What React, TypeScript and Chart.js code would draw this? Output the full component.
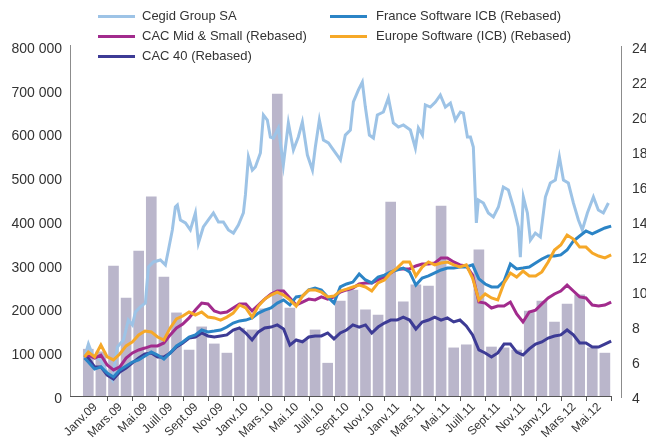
import React, { useEffect, useRef } from 'react';
import { Chart, registerables } from 'chart.js';

Chart.register(...registerables);

const FONT = '"Liberation Sans", Arial, Helvetica, sans-serif';

// x tick labels (every second month, Jan 2009 .. May 2012)
const xLabels = [
  'Janv.09', 'Mars.09', 'Mai.09', 'Juill.09', 'Sept.09', 'Nov.09',
  'Janv.10', 'Mars.10', 'Mai.10', 'Juill.10', 'Sept.10', 'Nov.10',
  'Janv.11', 'Mars.11', 'Mai.11', 'Juill.11', 'Sept.11', 'Nov.11',
  'Janv.12', 'Mars.12', 'Mai.12',
];

// monthly traded volume (left axis), Jan 2009 .. Jun 2012
const volume = [
  107000, 101000, 297000, 224000, 331000, 455000, 272000, 190000, 105000, 158000,
  119000, 98000, 155000, 151000, 199000, 690000, 201000, 128000, 151000, 75000,
  217000, 242000, 197000, 185000, 443000, 215000, 254000, 251000, 434000, 110000,
  117000, 334000, 112000, 110000, 105000, 194000, 217000, 169000, 210000, 231000,
  110000, 98000,
];

// time (months since 1 Jan 2009) for the index series
const idxT = [
  0.2, 0.5, 1, 1.5, 2, 2.5, 3, 3.5, 4, 4.5, 5, 5.5, 6, 6.5, 7, 7.5, 8, 8.5, 9, 9.5,
  10, 10.5, 11, 11.5, 12, 12.5, 13, 13.5, 14, 14.5, 15, 15.5, 16, 16.5, 17, 17.5, 18, 18.5, 19, 19.5,
  20, 20.5, 21, 21.5, 22, 22.5, 23, 23.5, 24, 24.5, 25, 25.5, 26, 26.5, 27, 27.5, 28, 28.5, 29, 29.5,
  30, 30.5, 31, 31.5, 32, 32.5, 33, 33.5, 34, 34.5, 35, 35.5, 36, 36.5, 37, 37.5, 38, 38.5, 39, 39.5,
  40, 40.5, 41, 41.5, 42,
];

const europeSoftware = [
  6.23, 6.51, 6.23, 6.91, 6.23, 6.06, 6.4, 6.86, 7.09, 7.49,
  7.71, 7.66, 7.37, 7.2, 7.89, 8.4, 8.57, 8.8, 8.63, 8.8,
  8.51, 8.46, 8.34, 8.51, 8.74, 9.2, 9.03, 8.51, 9.14, 9.54,
  9.77, 9.94, 9.77, 9.49, 9.14, 9.71, 10.06, 10.06, 9.94, 9.66,
  9.71, 10.0, 10.11, 10.23, 10.34, 10.23, 10.0, 10.46, 10.63, 11.03,
  11.31, 11.66, 11.66, 10.86, 11.37, 11.66, 11.49, 11.6, 11.66, 11.49,
  11.37, 11.49, 10.74, 9.49, 9.83, 9.6, 9.49, 10.46, 11.03, 10.8,
  11.14, 10.86, 10.86, 11.09, 11.66, 12.34, 12.63, 13.2, 12.97, 12.51,
  12.51, 12.17, 12.0, 11.89, 12.06,
];

const cacMidSmall = [
  6.23, 6.34, 6.17, 6.34, 5.77, 5.49, 5.66, 6.17, 6.46, 6.63,
  6.74, 6.86, 6.86, 7.03, 7.49, 7.89, 8.11, 8.46, 8.91, 9.31,
  9.26, 8.86, 8.74, 8.8, 9.03, 9.26, 9.26, 8.86, 9.2, 9.54,
  9.83, 10.0, 10.0, 9.6, 9.2, 9.37, 9.54, 9.49, 9.66, 9.54,
  9.66, 9.94, 10.06, 10.17, 10.4, 10.46, 10.46, 10.63, 10.8, 11.03,
  11.26, 11.26, 11.26, 11.43, 11.54, 11.54, 11.6, 11.89, 11.89, 11.66,
  11.49, 11.43, 10.91, 9.37, 9.31, 9.03, 9.14, 9.14, 9.37, 8.69,
  8.23, 8.8, 8.91, 9.26, 9.6, 9.83, 10.0, 10.34, 10.0, 9.66,
  9.6, 9.2, 9.14, 9.2, 9.37,
];

const franceSoftware = [
  6.17, 5.94, 5.54, 5.66, 5.31, 5.09, 5.49, 5.71, 5.94, 6.06,
  6.29, 6.51, 6.34, 6.11, 6.46, 6.86, 7.09, 7.37, 7.49, 7.77,
  7.66, 7.71, 7.77, 7.94, 8.17, 8.29, 8.34, 8.46, 8.74, 8.91,
  9.03, 9.31, 9.49, 9.2, 9.66, 9.71, 10.06, 10.17, 10.06, 9.66,
  9.31, 10.23, 10.4, 10.51, 10.97, 10.63, 10.46, 10.8, 10.91, 11.09,
  11.2, 11.31, 11.09, 10.34, 10.74, 10.86, 11.03, 11.2, 11.31, 11.31,
  11.37, 11.37, 11.49, 10.69, 10.4, 10.23, 10.23, 10.57, 11.54, 11.26,
  11.31, 11.37, 11.6, 11.83, 12.0, 12.0, 12.06, 12.34, 12.86, 13.14,
  13.43, 13.26, 13.43, 13.6, 13.71,
];

const cac40 = [
  6.34, 6.17, 5.66, 5.66, 5.2, 4.97, 5.37, 5.6, 5.89, 6.17,
  6.4, 6.46, 6.23, 6.23, 6.46, 6.8, 7.03, 7.31, 7.37, 7.6,
  7.43, 7.37, 7.43, 7.49, 7.77, 7.89, 7.6, 7.2, 7.66, 7.89,
  7.94, 8.06, 7.83, 6.91, 7.2, 7.09, 7.37, 7.43, 7.43, 7.6,
  7.26, 7.6, 7.77, 8.06, 7.94, 8.06, 7.6, 7.94, 8.17, 8.34,
  8.34, 8.51, 8.34, 7.83, 8.23, 8.34, 8.51, 8.34, 8.46, 8.23,
  8.34, 8.0, 7.49, 6.63, 6.46, 6.23, 6.46, 6.97, 6.97, 6.51,
  6.34, 6.69, 6.97, 7.09, 7.31, 7.43, 7.49, 7.77, 7.49, 7.03,
  7.03, 6.8, 6.8, 6.97, 7.14,
];

// Cegid share price (right axis)
const cegidT = [
  0.19, 0.51, 0.9, 1.46, 2.02, 2.41, 2.81, 3.29, 3.68, 4.0,
  4.24, 4.63, 5.03, 5.27, 5.67, 6.22, 6.62, 6.86, 7.17, 7.41,
  7.57, 7.81, 8.21, 8.6, 9.0, 9.24, 9.63, 10.03, 10.43, 10.83,
  11.22, 11.62, 12.02, 12.41, 12.81, 12.97, 13.21, 13.52, 13.76, 14.16,
  14.4, 14.71, 14.95, 15.19, 15.59, 15.98, 16.38, 16.78, 17.17, 17.49,
  17.89, 18.29, 18.52, 18.84, 19.16, 19.56, 19.95, 20.35, 20.51, 20.9,
  21.3, 21.54, 21.94, 22.25, 22.49, 22.81, 23.13, 23.44, 23.92, 24.32,
  24.71, 25.11, 25.51, 26.06, 26.46, 26.7, 27.02, 27.25, 27.65, 28.05,
  28.44, 28.84, 29.24, 29.63, 30.03, 30.27, 30.59, 30.83, 31.06, 31.3,
  31.46, 31.86, 32.25, 32.65, 33.05, 33.44, 33.84, 34.24, 34.63, 34.79,
  35.03, 35.35, 35.59, 35.98, 36.38, 36.78, 37.17, 37.57, 37.89, 38.21,
  38.6, 39.0, 39.4, 39.71, 40.11, 40.59, 40.98, 41.38, 41.78,
];
const cegidV = [
  6.17, 6.97, 6.23, 6.06, 5.31, 4.91, 6.8, 7.2, 8.34, 8.06,
  8.8, 9.09, 9.31, 11.37, 11.66, 11.77, 11.49, 12.34, 13.49, 14.8,
  14.91, 14.06, 13.89, 13.49, 14.46, 12.74, 13.66, 14.06, 14.46, 13.94,
  13.94, 13.49, 13.31, 13.77, 14.46, 15.49, 17.66, 16.91, 17.09, 17.89,
  20.06, 19.77, 18.8, 18.74, 19.31, 17.2, 19.6, 18.06, 18.8, 19.66,
  17.77, 16.91, 18.23, 19.77, 18.63, 18.46, 18.06, 17.66, 17.49, 18.91,
  19.2, 20.8, 21.49, 21.94, 20.51, 18.91, 18.74, 20.06, 20.23, 21.03,
  19.6, 19.37, 19.49, 19.2, 18.17, 19.31, 18.91, 20.63, 20.51, 20.8,
  21.2, 20.51, 20.74, 19.77, 20.23, 20.17, 18.8, 18.8, 18.23, 13.89,
  15.2, 15.03, 14.46, 14.23, 14.8, 15.94, 15.77, 14.8, 13.66, 11.94,
  15.37, 14.46, 12.91, 13.31, 13.09, 15.37, 16.17, 16.34, 17.66, 16.34,
  16.17, 15.03, 14.06, 13.49, 14.46, 15.37, 14.63, 14.46, 15.03,
];

const C_CEGID = '#9dc3e6';
const C_FRANCE = '#2b84c6';
const C_MID = '#a22b8d';
const C_EUROPE = '#f6a828';
const C_CAC40 = '#3d3b95';
const C_BAR = '#bab6cb';

const legendItems = [
  { label: 'Cegid Group SA', color: C_CEGID, col: 0, row: 0 },
  { label: 'France Software ICB (Rebased)', color: C_FRANCE, col: 1, row: 0 },
  { label: 'CAC Mid & Small (Rebased)', color: C_MID, col: 0, row: 1 },
  { label: 'Europe Software (ICB) (Rebased)', color: C_EUROPE, col: 1, row: 1 },
  { label: 'CAC 40 (Rebased)', color: C_CAC40, col: 0, row: 2 },
];

const legendPlugin = {
  id: 'customLegend',
  afterDraw(chart: any) {
    const ctx = chart.ctx;
    const colX = [98, 330];
    const textX = [142, 376];
    const rowY = [16, 36, 56];
    ctx.save();
    ctx.font = `13px ${FONT}`;
    ctx.textBaseline = 'middle';
    ctx.textAlign = 'left';
    legendItems.forEach((it) => {
      const y = rowY[it.row];
      ctx.strokeStyle = it.color;
      ctx.lineWidth = 3;
      ctx.beginPath();
      ctx.moveTo(colX[it.col], y + 0.5);
      ctx.lineTo(colX[it.col] + 37, y + 0.5);
      ctx.stroke();
      ctx.fillStyle = '#333';
      ctx.fillText(it.label, textX[it.col], y);
    });
    ctx.restore();
  },
};

const axesPlugin = {
  id: 'customAxes',
  afterDatasetsDraw(chart: any) {
    const ctx = chart.ctx;
    const { left, right, top, bottom } = chart.chartArea;
    const xs = chart.scales.x;
    ctx.save();
    ctx.lineWidth = 1;
    // left axis
    ctx.strokeStyle = '#8c8c8c';
    ctx.beginPath();
    ctx.moveTo(left + 0.5, top - 1);
    ctx.lineTo(left + 0.5, bottom);
    ctx.stroke();
    // right axis
    ctx.beginPath();
    ctx.moveTo(right + 0.5, top);
    ctx.lineTo(right + 0.5, bottom + 2);
    ctx.stroke();
    // x axis
    ctx.strokeStyle = '#555';
    const xEnd = xs.getPixelForValue(volume.length);
    ctx.beginPath();
    ctx.moveTo(left, bottom + 0.5);
    ctx.lineTo(xEnd, bottom + 0.5);
    for (let m = 2; m <= volume.length; m += 2) {
      const px = Math.round(xs.getPixelForValue(m)) + 0.5;
      ctx.moveTo(px, bottom);
      ctx.lineTo(px, bottom + 5);
    }
    ctx.stroke();
    ctx.restore();
  },
};

const pts = (ts: number[], vs: number[]) => ts.map((t, i) => ({ x: t, y: vs[i] }));

const lineDs = (label: string, color: string, data: any[], order: number) => ({
  type: 'line' as const,
  label,
  data,
  borderColor: color,
  backgroundColor: color,
  borderWidth: 3,
  pointRadius: 0,
  tension: 0,
  yAxisID: 'y1',
  order,
});

export default function App() {
  const ref = useRef<HTMLCanvasElement>(null);

  useEffect(() => {
    const canvas = ref.current;
    if (!canvas) return;
    const chart = new Chart(canvas, {
      type: 'bar',
      data: {
        datasets: [
          {
            type: 'bar',
            label: 'Volume',
            data: volume.map((v, i) => ({ x: i + 0.5, y: v })),
            backgroundColor: C_BAR,
            barThickness: 10,
            yAxisID: 'y',
            order: 10,
          } as any,
          lineDs('Cegid Group SA', C_CEGID, pts(cegidT, cegidV), 5),
          lineDs('CAC 40 (Rebased)', C_CAC40, pts(idxT, cac40), 4),
          lineDs('CAC Mid & Small (Rebased)', C_MID, pts(idxT, cacMidSmall), 3),
          lineDs('France Software ICB (Rebased)', C_FRANCE, pts(idxT, franceSoftware), 2),
          lineDs('Europe Software (ICB) (Rebased)', C_EUROPE, pts(idxT, europeSoftware), 1),
        ],
      },
      options: {
        responsive: false,
        animation: false,
        devicePixelRatio: 1,
        layout: { padding: { top: 46, left: 0, right: 0, bottom: 0 } },
        plugins: {
          legend: { display: false },
          tooltip: { enabled: false },
        },
        scales: {
          x: {
            type: 'linear',
            offset: false,
            min: -0.952,
            max: 42.78,
            grid: { display: false, drawTicks: false },
            border: { display: false },
            afterBuildTicks: (s: any) => {
              s.ticks = xLabels.map((_, i) => ({ value: 2 * i + 0.5 }));
            },
            afterFit: (s: any) => {
              s.height = 42;
              s.paddingLeft = 0;
              s.paddingRight = 0;
            },
            ticks: {
              autoSkip: false,
              minRotation: 45,
              maxRotation: 45,
              padding: 4,
              labelOffset: 7,
              color: '#333',
              font: { size: 12, family: FONT },
              callback: (_v: any, i: number) => xLabels[i],
            },
          },
          y: {
            type: 'linear',
            position: 'left',
            min: 0,
            max: 800000,
            grid: { display: false, drawTicks: false },
            border: { display: false },
            afterFit: (s: any) => {
              s.width = 70;
            },
            ticks: {
              stepSize: 100000,
              padding: 8,
              labelOffset: 3,
              color: '#333',
              font: { size: 14, family: FONT },
              callback: (v: any) => (v === 0 ? '0' : `${Math.round(v / 1000)} 000`),
            },
          },
          y1: {
            type: 'linear',
            position: 'right',
            min: 4,
            max: 24,
            grid: { display: false, drawTicks: false },
            border: { display: false },
            afterFit: (s: any) => {
              s.width = 25;
            },
            ticks: {
              stepSize: 2,
              padding: 11,
              labelOffset: 3,
              color: '#333',
              font: { size: 14, family: FONT },
            },
          },
        },
      } as any,
      plugins: [axesPlugin, legendPlugin],
    });
    return () => chart.destroy();
  }, []);

  return (
    <div style={{ position: 'absolute', left: 0, top: 0, width: 646, height: 438, background: '#fff' }}>
      <canvas ref={ref} width={646} height={438} style={{ display: 'block', width: 646, height: 438 }} />
    </div>
  );
}
